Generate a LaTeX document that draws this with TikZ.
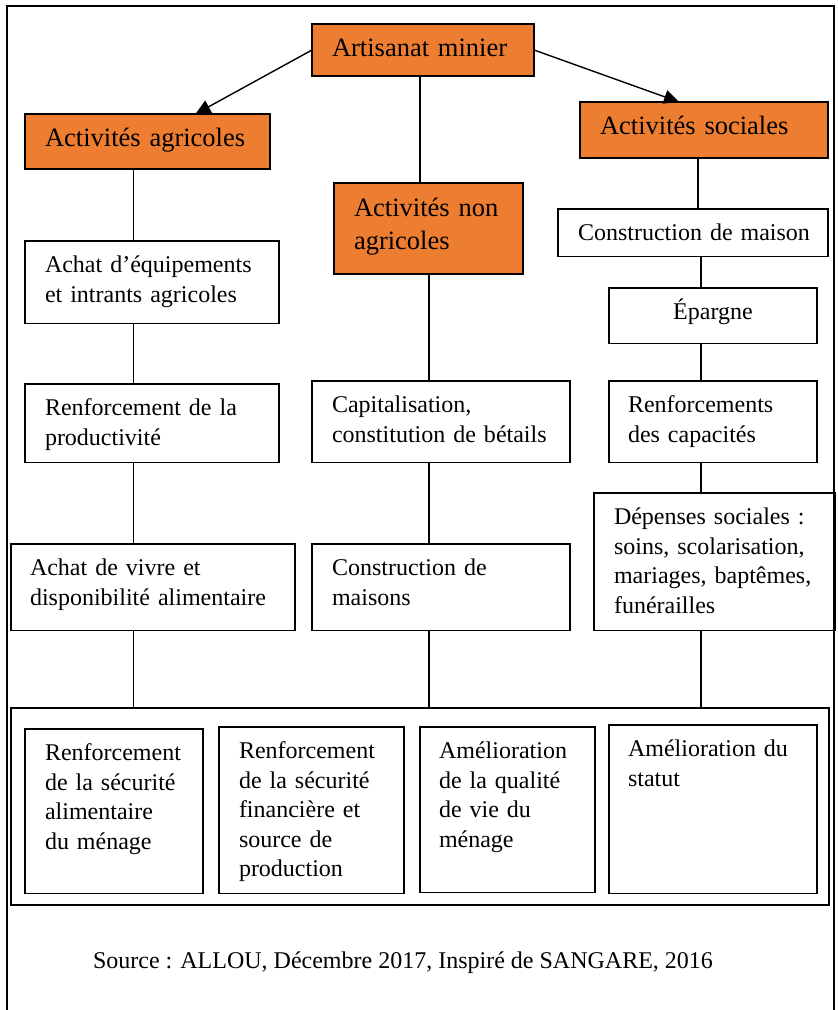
\documentclass[tikz,border=0pt]{standalone}
\usepackage{fontspec}
\setmainfont{Liberation Serif}
\usepackage{tikz}
\usetikzlibrary{arrows.meta}
\definecolor{orangebox}{HTML}{ED7D31}
\hyphenpenalty=10000
\exhyphenpenalty=10000

\begin{document}
\begin{tikzpicture}
[x=0.5pt, y=-0.5pt, line width=0.7pt,
  headbox/.style={rectangle, draw=black, fill=orangebox, anchor=north west,
    align=left, inner xsep=10pt, inner ysep=0pt, outer sep=0pt,
    text height=16.5pt, font=\fontsize{13.25pt}{16.5pt}\selectfont},
  textbox/.style={rectangle, draw=black, anchor=north west, align=left,
    inner xsep=10pt, inner ysep=0pt, outer sep=0pt,
    text height=15.75pt, font=\fontsize{12pt}{14.75pt}\selectfont},
  arrowlink/.style={-{Triangle[length=7.5pt,width=7pt]}}]
  \useasboundingbox (0,0) rectangle (837,1010);
  \draw[line width=0.75pt] (7,6) rectangle (834,1030);
  \coordinate (colA) at (133.5,0);
  \coordinate (colB) at (429,0);
  \coordinate (colC) at (701,0);

  % header boxes
  \node[headbox, text width=91pt, text depth=9.5pt] (art) at (312,24) {Artisanat minier};
  \node[headbox, text width=102.5pt, text depth=11pt] (agri) at (25,114) {Activités agricoles};
  \node[headbox, text width=104pt, text depth=11.5pt] (soc) at (580,102) {Activités sociales};
  \node[headbox, text width=74.5pt, text height=17pt, text depth=28.5pt] (nonagri) at (334,183)
    {Activités non\\agricoles};

  % left column
  \node[textbox, text width=107pt, text depth=25.5pt] (equip) at (25,241)
    {Achat d’équipements\\et intrants agricoles};
  \node[textbox, text width=107pt, text depth=23.5pt] (prod) at (25,384)
    {Renforcement de la\\productivité};
  \node[textbox, text width=123pt, text depth=27.5pt, inner xsep=9.5pt] (vivre) at (11,544)
    {Achat de vivre et\\disponibilité alimentaire};

  % middle column
  \node[textbox, text width=109pt, text depth=25pt] (capital) at (312,381)
    {Capitalisation,\\constitution de bétails};
  \node[textbox, text width=109pt, text depth=27.5pt] (maisons) at (312,544)
    {Construction de\\maisons};

  % right column
  \node[textbox, text width=115pt, text depth=8pt] (maison) at (558,209)
    {\mbox{Construction de maison}};
  \node[textbox, text width=84pt, text depth=12pt, align=center] (epargne) at (609,288)
    {Épargne};
  \node[textbox, text width=85pt, text depth=25pt, inner xsep=9.5pt] (capac) at (609,381)
    {Renforcements\\des capacités};
  \node[textbox, text width=100.5pt, text depth=53pt] (depenses) at (594,493)
    {Dépenses sociales :\\soins, scolarisation,\\mariages, baptêmes,\\funérailles};

  % results
  \node[draw=black, line width=1.3pt, anchor=north west, inner sep=0pt, outer sep=0pt,
    minimum width=409pt, minimum height=98.5pt] (result) at (11,708) {};
  \node[textbox, text width=69pt, text depth=66.5pt] (secali) at (25,729)
    {Renforcement\\de la sécurité\\alimentaire\\du ménage};
  \node[textbox, text width=72.5pt, text depth=67.5pt] (secfin) at (219,727)
    {Renforcement\\de la sécurité\\financière et\\source de\\production};
  \node[textbox, text width=68.5pt, text depth=67pt, inner xsep=9.5pt] (qualite) at (420,727)
    {Amélioration\\de la qualité\\de vie du\\ménage};
  \node[textbox, text width=85pt, text depth=68.5pt, inner xsep=9.5pt] (statut) at (609,725)
    {Amélioration du\\statut};

  \node[anchor=base, inner sep=0pt, font=\fontsize{12pt}{14.75pt}\selectfont] (source) at (403,968)
    {Source : ALLOU, Décembre 2017, Inspiré de SANGARE, 2016};

  % connectors
  \draw[arrowlink] (art.west) -- ([xshift=24pt]agri.north);
  \draw[arrowlink] (art.east) -- ([xshift=-12.5pt]soc.north);
  \draw ([xshift=-1.5pt]art.south) -- ([xshift=-1.5pt]art.south |- nonagri.north);

  \draw (agri.south -| colA) -- (equip.north -| colA);
  \draw (equip.south -| colA) -- (prod.north -| colA);
  \draw (prod.south -| colA) -- (vivre.north -| colA);
  \draw (vivre.south -| colA) -- (result.north -| colA);

  \draw (nonagri.south -| colB) -- (capital.north -| colB);
  \draw (capital.south -| colB) -- (maisons.north -| colB);
  \draw (maisons.south -| colB) -- (result.north -| colB);

  \draw ([xshift=-1.5pt]soc.south -| colC) -- ([xshift=-1.5pt]maison.north -| colC);
  \draw (maison.south -| colC) -- (epargne.north -| colC);
  \draw (epargne.south -| colC) -- (capac.north -| colC);
  \draw (capac.south -| colC) -- (depenses.north -| colC);
  \draw (depenses.south -| colC) -- (result.north -| colC);
\end{tikzpicture}
\end{document}
